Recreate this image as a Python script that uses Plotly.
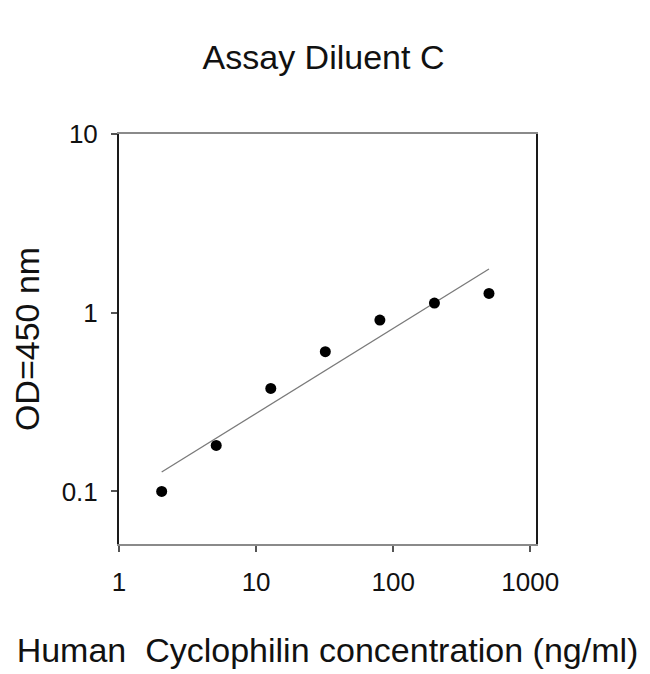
import numpy as np
import plotly.graph_objects as go

# standard curve, 2.5-fold dilutions from 500 ng/ml
conc = [2.048, 5.12, 12.8, 32, 80, 200, 500]
od450 = [0.100, 0.181, 0.377, 0.605, 0.910, 1.133, 1.283]

x_ticks = [1, 10, 100, 1000]
x_ticktext = ["1", "10", "100", "1000"]
y_ticks = [0.1, 1, 10]
y_ticktext = ["0.1", "1", "10"]

# log-log linear fit, like the original standard curve
slope, icpt = np.polyfit(np.log10(conc), np.log10(od450), 1)
fit_x = [min(conc), max(conc)]
fit_y = [10 ** (icpt + slope * np.log10(v)) for v in fit_x]

fig = go.Figure()
fig.add_trace(go.Scatter(x=fit_x, y=fit_y, mode="lines",
                         line=dict(color="#7a7a7a", width=1.3),
                         showlegend=False, hoverinfo="skip"))
fig.add_trace(go.Scatter(x=conc, y=od450, mode="markers",
                         marker=dict(color="black", size=11),
                         showlegend=False))

font = "Liberation Sans, Arial, sans-serif"

# page body adds an 8px margin, so the figure is 8px smaller each way
W, H = 642, 666

fig.update_layout(
    width=W, height=H,
    margin=dict(l=111, r=114, t=126, b=130),
    paper_bgcolor="white", plot_bgcolor="white",
    font=dict(family=font, color="#111111"),
    title=dict(text="Assay Diluent C", x=315.5 / W, xref="container",
               y=1 - 49 / H, yref="container", yanchor="middle",
               xanchor="center", font=dict(size=34, color="#111111")),
)

fig.update_xaxes(
    type="log", range=[0, 3.042], automargin=False,
    tickvals=x_ticks, ticktext=x_ticktext,
    tickfont=dict(size=26), ticks="outside", ticklen=6, tickwidth=1.5,
    tickcolor="#555555", ticklabelstandoff=8,
    showline=True, linecolor="#8a8a8a", linewidth=1.6, mirror=True,
    showgrid=False, zeroline=False,
    title=dict(text="Human  Cyclophilin concentration (ng/ml)",
               font=dict(size=34), standoff=42),
)
fig.update_yaxes(
    type="log", range=[-1.294, 1.0], automargin=False,
    tickvals=y_ticks, ticktext=y_ticktext,
    tickfont=dict(size=26), ticks="outside", ticklen=6, tickwidth=1.5,
    tickcolor="#555555", ticklabelstandoff=8,
    showline=True, linecolor="#1a1a1a", linewidth=2, mirror=True,
    showgrid=False, zeroline=False,
    title=dict(text="OD=450 nm", font=dict(size=34), standoff=29),
)

fig.write_html("out.html")
